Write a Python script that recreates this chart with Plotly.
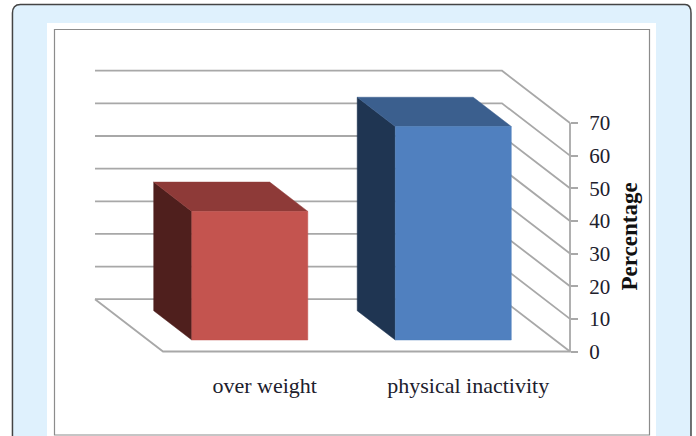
import plotly.graph_objects as go

categories = ["over weight", "physical inactivity"]
percentages = [39.4, 65.4]
colors_front = ["#c4544f", "#5080bf"]
colors_side = ["#4f1f1d", "#1f3552"]
colors_top = ["#8e3a38", "#3b5f8e"]
tick_values = [0, 10, 20, 30, 40, 50, 60, 70]

WIDTH, HEIGHT = 696, 436
GRID = "#a8a8a8"
INK = "#20202c"
SERIF = "Liberation Serif"

# Oblique 3-D projection: depth 0 is the front of the floor, depth 1 the back wall.
SHEAR_X = -68 / 203.5   # category units per unit of depth
SHEAR_Y = 52.3 / 3.264  # percentage units per unit of depth
BAR_HALF = 0.285
DEPTH_NEAR, DEPTH_FAR = 0.22, 0.78
X_MIN, X_MAX = -0.5, 1.5


def project(x, v, depth):
    return x + SHEAR_X * depth, v + SHEAR_Y * depth


def path(points):
    xs, ys = zip(*[project(*p) for p in points])
    return list(xs), list(ys)


fig = go.Figure()

# Back wall and right wall gridlines, plus the floor outline
for v in tick_values:
    xs, ys = path([(X_MIN, v, 1), (X_MAX, v, 1), (X_MAX, v, 0)])
    fig.add_trace(go.Scatter(x=xs, y=ys, mode="lines", line=dict(color=GRID, width=1.8), hoverinfo="skip"))
xs, ys = path([(X_MIN, 0, 1), (X_MIN, 0, 0), (X_MAX, 0, 0), (X_MAX, tick_values[-1], 0)])
fig.add_trace(go.Scatter(x=xs, y=ys, mode="lines", line=dict(color=GRID, width=1.8), hoverinfo="skip"))

# Each bar is three filled faces
for i, value in enumerate(percentages):
    left, right = i - BAR_HALF, i + BAR_HALF
    faces = [
        ([(left, 0, DEPTH_NEAR), (left, 0, DEPTH_FAR), (left, value, DEPTH_FAR), (left, value, DEPTH_NEAR)], colors_side[i]),
        ([(left, value, DEPTH_NEAR), (left, value, DEPTH_FAR), (right, value, DEPTH_FAR), (right, value, DEPTH_NEAR)], colors_top[i]),
        ([(left, 0, DEPTH_NEAR), (right, 0, DEPTH_NEAR), (right, value, DEPTH_NEAR), (left, value, DEPTH_NEAR)], colors_front[i]),
    ]
    for pts, color in faces:
        xs, ys = path(pts + pts[:1])
        fig.add_trace(go.Scatter(x=xs, y=ys, mode="lines", fill="toself", fillcolor=color,
                                 line=dict(color=color, width=0.5), hoverinfo="skip"))

# Category labels are centred on each slot of the front floor edge
label_x = list(range(len(categories)))

px_per_x = 203.5
px_per_v = 3.264
x0 = X_MIN - 163 / px_per_x
x1 = x0 + WIDTH / px_per_x
y0 = -(HEIGHT - 351.5) / px_per_v
y1 = 351.5 / px_per_v

shapes = [
    dict(type="path", xref="paper", yref="paper", layer="below",
         path="M 0.0179,-0.1 L 0.0179,0.97 Q 0.0179,0.9895 0.0293,0.9895 L 0.9842,0.9895 Q 0.9928,0.9895 0.9928,0.97 L 0.9928,-0.1 Z",
         fillcolor="#dff1fd", line=dict(color="#444444", width=1.5)),
    dict(type="rect", xref="paper", yref="paper", layer="below",
         x0=47 / WIDTH, x1=656 / WIDTH, y0=-0.1, y1=1 - 23 / HEIGHT,
         fillcolor="#ffffff", line=dict(width=0)),
    dict(type="rect", xref="paper", yref="paper", layer="below",
         x0=54.5 / WIDTH, x1=649.5 / WIDTH, y0=1 / HEIGHT, y1=1 - 29.5 / HEIGHT,
         fillcolor="#ffffff", line=dict(color="#8c8c8c", width=1.2)),
]

fig.update_layout(
    width=WIDTH, height=HEIGHT,
    margin=dict(l=0, r=0, t=0, b=0),
    paper_bgcolor="#ffffff", plot_bgcolor="rgba(0,0,0,0)",
    showlegend=False, shapes=shapes,
    xaxis=dict(range=[x0, x1], domain=[0, 1], showgrid=False, zeroline=False, showline=False,
               tickmode="array", tickvals=label_x, ticktext=categories,
               ticks="", anchor="free", position=(HEIGHT - 351.5) / HEIGHT,
               ticklabelstandoff=18, tickfont=dict(family=SERIF, size=22, color=INK)),
    yaxis=dict(range=[y0, y1], domain=[0, 1], showgrid=False, zeroline=False, showline=False,
               tickmode="array", tickvals=tick_values, ticks="outside", ticklen=7, tickwidth=1.5,
               tickcolor=GRID, side="right", anchor="free", position=570 / WIDTH,
               ticklabelstandoff=7, tickfont=dict(family=SERIF, size=21, color=INK)),
    annotations=[dict(text="<b>Percentage</b>", xref="paper", yref="paper",
                      x=629 / WIDTH, y=1 - 236.5 / HEIGHT, xanchor="center", yanchor="middle",
                      showarrow=False, textangle=-90,
                      font=dict(family=SERIF, size=23, color="#111111"))],
)

fig.write_html("out.html", config=dict(displayModeBar=False))
